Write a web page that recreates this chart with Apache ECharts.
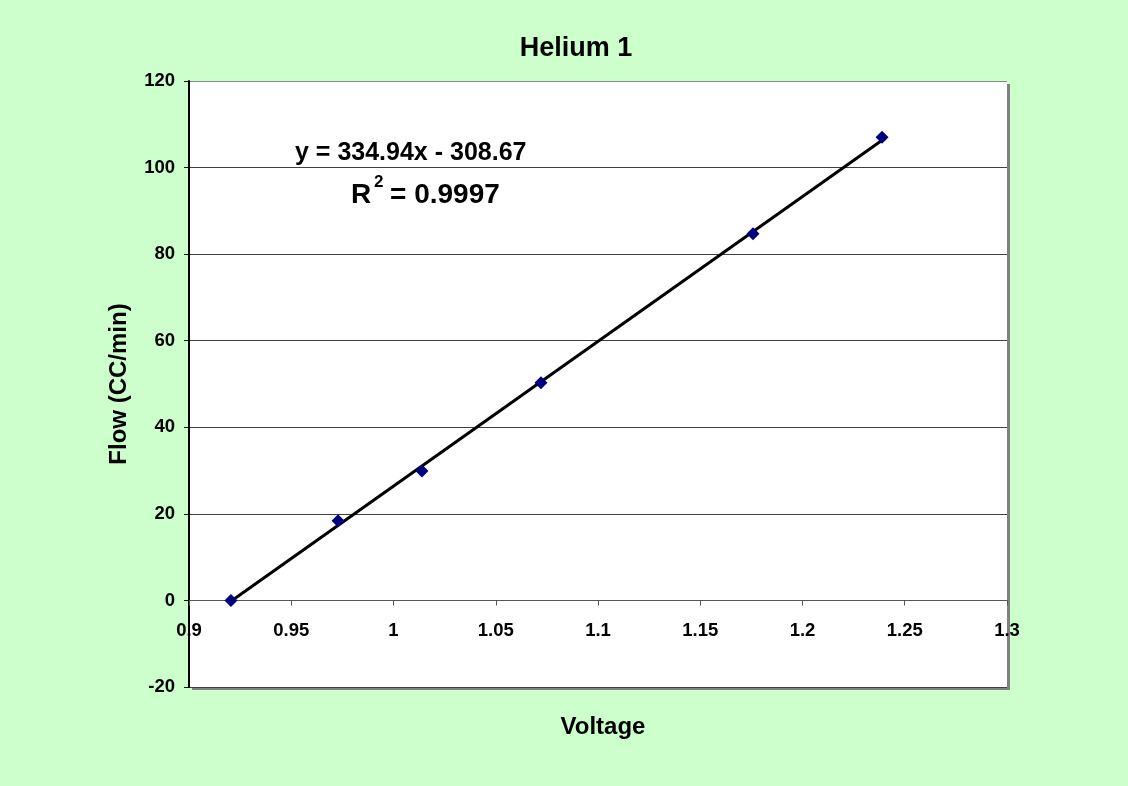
<!DOCTYPE html>
<html><head><meta charset="utf-8">
<script src="https://cdn.jsdelivr.net/npm/echarts@6/dist/echarts.min.js"></script>
<style>html,body{margin:0;padding:0;background:#CCFFCC;}#c{width:1128px;height:786px;}</style>
</head><body><div id="c"></div>
<script>
const voltage = [0.9205, 0.9729, 1.0139, 1.0721, 1.1758, 1.2389];
const flow = [0, 18.4, 29.9, 50.3, 84.7, 107.0];
const xTicks = {min: 0.9, max: 1.3, interval: 0.05};
const yTicks = {min: -20, max: 120, interval: 20};
const titleText = 'Helium 1';
const xName = 'Voltage';
const yName = 'Flow (CC/min)';
const eqText = 'y = 334.94x - 308.67';
const r2Text = '0.9997';

// least-squares trendline computed from data
const n = voltage.length;
const mx = voltage.reduce((a,b)=>a+b,0)/n, my = flow.reduce((a,b)=>a+b,0)/n;
let sxy=0, sxx=0;
for (let i=0;i<n;i++){sxy+=(voltage[i]-mx)*(flow[i]-my); sxx+=(voltage[i]-mx)**2;}
const slope = sxy/sxx, icpt = my - slope*mx;
const xmin = Math.min(...voltage), xmax = Math.max(...voltage);
const trend = [[xmin, slope*xmin+icpt],[xmax, slope*xmax+icpt]];

const font = 'Arial, "Liberation Sans", Helvetica, sans-serif';
const nLines = Math.round((yTicks.max - yTicks.min)/yTicks.interval) + 1;
const splitColors = Array.from({length: nLines}, (_, i) => i === nLines - 1 ? '#8a8a8a' : '#404040');

const chart = echarts.init(document.getElementById('c'), null, {renderer:'canvas'});
chart.setOption({
  backgroundColor: '#CCFFCC',
  animation: false,
  title: [
    {text: titleText, left: 571, top: 30, textAlign: 'center',
     textStyle: {fontFamily: font, fontWeight: 'bold', fontSize: 27, color: '#000'}},
    {text: xName, left: 598, top: 710, textAlign: 'center',
     textStyle: {fontFamily: font, fontWeight: 'bold', fontSize: 24, color: '#000'}}
  ],
  grid: {left: 189, right: 121, top: 81, bottom: 99, show: true,
    backgroundColor: '#fff', borderWidth: 0,
    shadowColor: '#808080', shadowOffsetX: 3, shadowOffsetY: 3, shadowBlur: 0.01},
  xAxis: {type: 'value', min: xTicks.min, max: xTicks.max, interval: xTicks.interval,
    axisLine: {show: true, onZero: true, lineStyle: {color: '#555', width: 1}},
    axisTick: {show: true, inside: false, length: 5, lineStyle: {color: '#555'}},
    axisLabel: {margin: -66, fontFamily: font, fontWeight: 'bold', fontSize: 18.5, color: '#000'},
    splitLine: {show: false}},
  yAxis: {type: 'value', min: yTicks.min, max: yTicks.max, interval: yTicks.interval,
    name: yName, nameLocation: 'middle', nameGap: 58, nameRotate: 90,
    nameTextStyle: {fontFamily: font, fontWeight: 'bold', fontSize: 24, color: '#000'},
    axisLine: {show: true, onZero: false, lineStyle: {color: '#000', width: 2}},
    axisTick: {show: true, inside: false, length: 5, lineStyle: {color: '#000'}},
    axisLabel: {margin: 14, fontFamily: font, fontWeight: 'bold', fontSize: 18.5, color: '#000'},
    splitLine: {show: true, lineStyle: {color: splitColors, width: 1}}},
  series: [
    {type: 'line', data: trend, symbol: 'none', lineStyle: {color: '#000', width: 3}, z: 2},
    {type: 'scatter', data: voltage.map((v,i)=>[v, flow[i]]), symbol: 'diamond',
     symbolSize: 13, itemStyle: {color: '#000080', opacity: 1}, z: 3}
  ],
  graphic: [
    {type: 'text', left: 295, top: 141, z: 10,
     style: {text: eqText, font: 'bold 25px ' + font, fill: '#000'}},
    {type: 'text', left: 351, top: 181, z: 10,
     style: {text: 'R', font: 'bold 28px ' + font, fill: '#000'}},
    {type: 'text', left: 374, top: 174, z: 10,
     style: {text: '2', font: 'bold 17px ' + font, fill: '#000'}},
    {type: 'text', left: 390, top: 181, z: 10,
     style: {text: '= ' + r2Text, font: 'bold 28px ' + font, fill: '#000'}}
  ]
});
</script></body></html>
